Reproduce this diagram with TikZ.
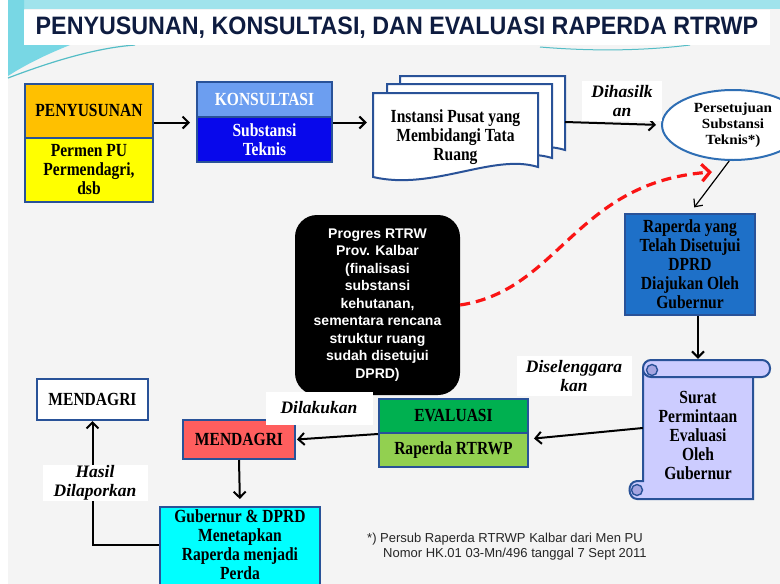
\documentclass[tikz,border=0pt]{standalone}
\usepackage{fontspec}
\setmainfont{Liberation Serif}
\setsansfont{Liberation Sans}
\newfontfamily\boxserif{Liberation Serif}[FakeStretch=0.84]
\newfontfamily\ellserif{Liberation Serif}[FakeStretch=1.08]
\usetikzlibrary{arrows.meta,shapes.geometric}

\definecolor{boxline}{RGB}{41,82,152}
\definecolor{penyuorange}{RGB}{255,192,0}
\definecolor{penyuyellow}{RGB}{255,255,0}
\definecolor{konsullight}{RGB}{108,158,240}
\definecolor{konsuldark}{RGB}{8,8,235}
\definecolor{raperblue}{RGB}{30,112,200}
\definecolor{evalgreen}{RGB}{0,176,80}
\definecolor{evallight}{RGB}{146,208,80}
\definecolor{mendred}{RGB}{255,94,94}
\definecolor{gubcyan}{RGB}{0,255,255}
\definecolor{scrollfill}{RGB}{204,204,255}
\definecolor{scrollcurl}{RGB}{165,165,225}
\definecolor{ellline}{RGB}{46,110,180}
\definecolor{titleblue}{RGB}{14,28,64}
\definecolor{swoosh}{RGB}{120,215,228}
\definecolor{pagegray}{RGB}{244,244,244}
\definecolor{dashred}{RGB}{250,20,20}

\tikzset{
    boxtext/.style={align=center,inner sep=0pt,
        font=\boxserif\bfseries\fontsize{18.5}{19}\selectfont},
    box/.style={boxtext,draw=boxline,line width=2pt},
    flow/.style={draw=black,line width=2pt,-{Straight Barb[length=6pt,width=12pt]}},
    lbl/.style={fill=white,inner sep=0pt,align=center,
        font=\bfseries\itshape\fontsize{17.5}{19.5}\selectfont},
    docsheet/.style={draw=boxline,line width=2pt,fill=white},
    scrollpart/.style={draw=boxline,line width=2pt,fill=scrollfill}
}

\begin{document}
\begin{tikzpicture}[x=1pt,y=-1pt]

\useasboundingbox (0,0) rectangle (780,584);
\fill[white] (0,0) rectangle (780,584);
\fill[pagegray] (8,0) rectangle (780,584);
\fill[swoosh!70] (8,0) rectangle (780,9);
\fill[swoosh] (8,0) -- (24,0) -- (24,45) -- (70,45) .. controls (45,55) and (25,65) .. (8,76) -- cycle;
\draw[swoosh!70!teal,line width=1.2pt] (8,78) .. controls (50,62) and (95,48) .. (135,45);
\draw[swoosh!70!teal,line width=1pt] (540,47) .. controls (600,52) and (650,50) .. (690,45);

\node[fill=white,minimum width=746,minimum height=35,inner sep=0pt,text=titleblue,
    font=\sffamily\bfseries\fontsize{24}{26}\selectfont] (title) at (397,27.5)
    {\scalebox{0.97}[1.05]{PENYUSUNAN, KONSULTASI, DAN EVALUASI RAPERDA RTRWP}};

\node[box,fill=penyuyellow,minimum width=128,minimum height=64] (penyubot) at (89,170) {Permen PU\\Permendagri,\\dsb};
\node[box,fill=penyuorange,minimum width=128,minimum height=54] (penyutop) at (89,110.5) {PENYUSUNAN};

\node[box,fill=konsuldark,text=white,minimum width=135,minimum height=45] (konsulbot) at (264.5,139.5) {Substansi\\Teknis};
\node[box,fill=konsullight,text=white,minimum width=135,minimum height=35] (konsultop) at (264.5,99.5) {KONSULTASI};
\coordinate (konsulin) at ([yshift=17pt]konsulbot.west);

\foreach \dx/\dy in {27/-17,14/-9,0/0}
{
    \pgfmathsetmacro{\lx}{373+\dx}
    \pgfmathsetmacro{\rx}{538+\dx}
    \pgfmathsetmacro{\ty}{93+\dy}
    \pgfmathsetmacro{\by}{177+\dy}
    \draw[docsheet] (\lx,\ty) -- (\rx,\ty) -- (\rx,\by-10) .. controls (\rx-45,\by-24) and (\lx+60,\by+14) .. (\lx,\by) -- cycle;
}
\node[boxtext,minimum width=165,minimum height=84] (inst) at (455.5,137) {Instansi Pusat yang\\Membidangi Tata\\Ruang};
\coordinate (instout) at (565,122);

\node[ellipse,draw=ellline,line width=2pt,fill=white,minimum width=142,minimum height=70,inner sep=0pt,
    align=center,font=\ellserif\bfseries\fontsize{14}{16}\selectfont] (persub) at (733,125) {Persetujuan\\Substansi\\Teknis*)};

\node[box,fill=raperblue,minimum width=130,minimum height=101] (raper) at (690,264.5)
    {Raperda yang\\Telah Disetujui\\DPRD\\Diajukan Oleh\\Gubernur};

\node[fill=black,rounded corners=22pt,minimum width=165,minimum height=180,inner sep=0pt,text=white,align=center,
    font=\sffamily\bfseries\fontsize{14}{17.5}\selectfont] (progres) at (377.5,305)
    {Progres RTRW\\Prov. Kalbar\\(finalisasi\\substansi\\kehutanan,\\sementara rencana\\struktur ruang\\sudah disetujui\\DPRD)};
\coordinate (redtip) at (712,172);

\draw[scrollpart] (643,371) -- (753,371) -- (753,499) -- (637,499) .. controls (628,499) and (626,482) .. (637,481) -- (643,481) -- cycle;
\draw[scrollpart,rounded corners=8pt] (643,360) rectangle (770,377);
\draw[boxline,line width=1.4pt,fill=scrollcurl] (652,370) circle (5.5);
\draw[boxline,line width=1.4pt,fill=scrollcurl] (637,490) circle (5.5);
\node[boxtext,minimum width=110,minimum height=150] (surat) at (698,435) {Surat\\Permintaan\\Evaluasi\\Oleh\\Gubernur};

\node[box,fill=evallight,minimum width=149,minimum height=34] (evalbot) at (453.5,450) {Raperda RTRWP};
\node[box,fill=evalgreen,minimum width=149,minimum height=34] (evaltop) at (453.5,416) {EVALUASI};

\node[box,fill=mendred,minimum width=112,minimum height=39] (mendred) at (239,439.5) {MENDAGRI};
\node[box,fill=gubcyan,minimum width=160,minimum height=100,anchor=north] (gub) at (240,506) {};
\node[boxtext] (gubtext) at (240,545) {Gubernur \& DPRD\\Menetapkan\\Raperda menjadi\\Perda};
\node[box,fill=white,minimum width=111,minimum height=41] (mendw) at (92.5,399.5) {MENDAGRI};

\draw[flow,shorten >=6pt] (penyutop.east |- konsulin) -- (konsulin);
\draw[flow,shorten >=6pt] (konsulin -| konsulbot.east) -- (konsulin -| inst.west);
\draw[flow,shorten >=5pt] (instout) -- (persub.west);
\draw[line width=1.2pt,-{Straight Barb[length=6pt,width=11pt]},shorten >=7pt] (persub.-96) -- (raper.north);
\draw[dashred,line width=3.2pt,dash pattern=on 10pt off 6pt,-{Straight Barb[length=8pt,width=17pt]}]
    (progres.east) .. controls (560,290) and (575,182) .. (redtip);
\draw[flow,shorten >=1pt] (raper.south -| surat.north) -- (surat.north);
\draw[flow,shorten >=5pt] ([yshift=7pt]surat.west) -- ([yshift=11pt]evalbot.east);
\draw[flow,shorten >=1pt] (evaltop.south west) -- (mendred.east);
\draw[flow,shorten >=7pt] (mendred.south) -- (gub.north);
\draw[flow] (gub.west |- gubtext) -| (mendw.south);

\node[lbl,minimum width=80,minimum height=40] (dihasil) at (622,101) {Dihasilk\\an};
\node[lbl,minimum width=115,minimum height=40] (disel) at (574,376) {Diselenggara\\kan};
\node[lbl,minimum width=107,minimum height=33] (dilak) at (319,408) {Dilakukan};
\node[lbl,minimum width=105,minimum height=36] (hasil) at (95,483) {Hasil\\Dilaporkan};

\node[anchor=west,inner sep=0pt,text=black!85,font=\sffamily\fontsize{13}{14}\selectfont] (fnA) at (367,539)
    {*) Persub Raperda RTRWP Kalbar dari Men PU};
\node[anchor=west,inner sep=0pt,text=black!85,font=\sffamily\fontsize{13}{14}\selectfont] (fnB) at (383,554)
    {Nomor HK.01 03-Mn/496 tanggal 7 Sept 2011};

\end{tikzpicture}
\end{document}
